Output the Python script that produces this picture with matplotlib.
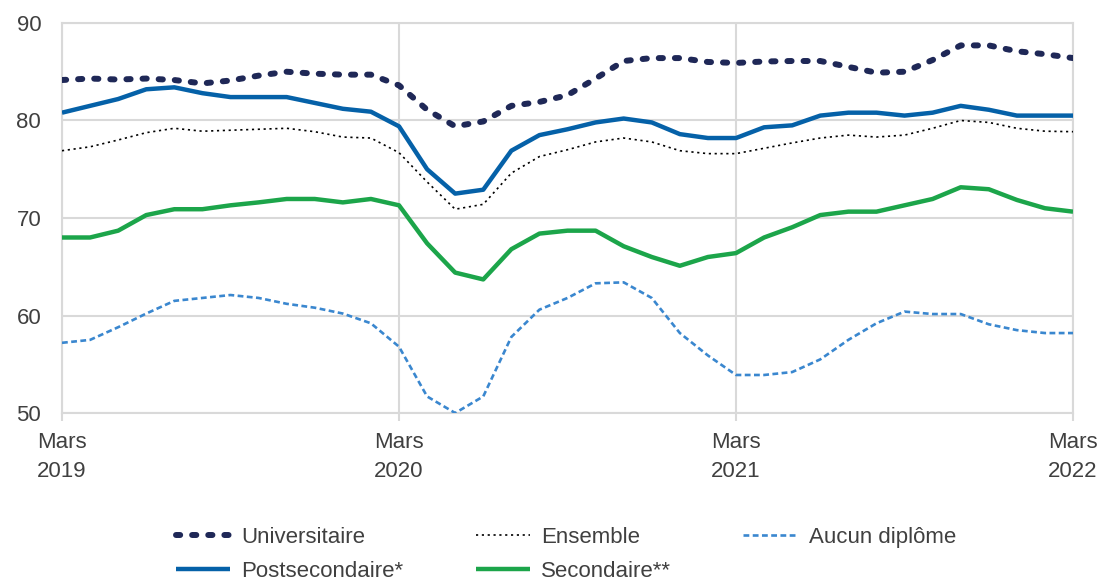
import matplotlib.pyplot as plt

# monthly rates, March 2019 .. March 2022
months = list(range(37))
tick_pos = [0, 12, 24, 36]
tick_labels = ["Mars\n2019", "Mars\n2020", "Mars\n2021", "Mars\n2022"]

universitaire = [84.15, 84.3, 84.2, 84.3, 84.15, 83.8, 84.1, 84.6, 85.0, 84.8, 84.7, 84.7, 83.6,
                 81.1, 79.4, 79.9, 81.5, 81.9, 82.6, 84.3, 86.1, 86.4, 86.4, 86.0, 85.9,
                 86.05, 86.1, 86.1, 85.5, 84.9, 85.0, 86.2, 87.7, 87.7, 87.1, 86.8, 86.4]
postsecondaire = [80.8, 81.5, 82.2, 83.2, 83.4, 82.8, 82.4, 82.4, 82.4, 81.8, 81.2, 80.9, 79.4,
                  75.0, 72.5, 72.9, 76.9, 78.5, 79.1, 79.8, 80.2, 79.8, 78.6, 78.2, 78.2,
                  79.3, 79.5, 80.5, 80.8, 80.8, 80.5, 80.8, 81.5, 81.1, 80.5, 80.5, 80.5]
ensemble = [76.9, 77.3, 78.0, 78.75, 79.2, 78.9, 79.0, 79.1, 79.2, 78.85, 78.3, 78.2, 76.7,
            73.7, 70.9, 71.4, 74.6, 76.3, 77.0, 77.8, 78.2, 77.8, 76.9, 76.6, 76.6,
            77.15, 77.7, 78.2, 78.5, 78.3, 78.5, 79.2, 80.0, 79.8, 79.2, 78.9, 78.85]
secondaire = [68.0, 68.0, 68.7, 70.3, 70.9, 70.9, 71.3, 71.6, 71.95, 71.95, 71.6, 71.95, 71.3,
              67.4, 64.4, 63.7, 66.8, 68.4, 68.7, 68.7, 67.1, 66.0, 65.1, 66.0, 66.4,
              68.0, 69.05, 70.3, 70.65, 70.65, 71.3, 71.95, 73.15, 72.95, 71.85, 71.0, 70.65]
aucun = [57.2, 57.5, 58.8, 60.2, 61.5, 61.8, 62.1, 61.8, 61.2, 60.8, 60.2, 59.2, 56.8,
         51.7, 50.0, 51.7, 57.8, 60.6, 61.8, 63.3, 63.4, 61.8, 58.2, 55.9, 53.9,
         53.9, 54.2, 55.5, 57.5, 59.2, 60.4, 60.15, 60.15, 59.1, 58.5, 58.2, 58.2]

plt.rcParams['font.family'] = ['Liberation Sans', 'DejaVu Sans']
text_color = '#404040'
grid_color = '#d9d9d9'


def main():
    fig = plt.figure(figsize=(11.01, 5.86), dpi=100)
    ax = fig.add_axes([0.0563, 0.2952, 0.9183, 0.6656])

    ax.plot(months, universitaire, color='#1f2857', lw=4.3, dashes=(0.7, 2.0),
            dash_capstyle='round', label='Universitaire', zorder=5)
    ax.plot(months, postsecondaire, color='#0561a8', lw=3.2, solid_capstyle='butt',
            label='Postsecondaire*', zorder=4)
    ax.plot(months, ensemble, color='black', lw=1.2, dashes=(1.3, 2.2),
            label='Ensemble', zorder=3)
    ax.plot(months, secondaire, color='#1ca54a', lw=3.2, solid_capstyle='butt',
            label='Secondaire**', zorder=4)
    ax.plot(months, aucun, color='#3a87cf', lw=1.9, dashes=(2.2, 1.3),
            label='Aucun diplôme', zorder=3)

    ax.set_xlim(0, 36)
    ax.set_ylim(50, 90)
    ax.set_yticks([50, 60, 70, 80, 90])
    ax.set_xticks(tick_pos)
    ax.set_xticklabels(tick_labels, linespacing=1.45)

    ax.grid(True, color=grid_color, lw=1.5)
    ax.set_axisbelow(True)
    for s in ax.spines.values():
        s.set_color(grid_color)
        s.set_linewidth(1.5)

    ax.tick_params(axis='y', length=0, pad=15, labelsize=16, labelcolor=text_color)
    ax.tick_params(axis='x', length=6, width=1.5, color=grid_color, pad=8,
                   labelsize=16, labelcolor=text_color)

    leg = fig.legend(loc='center', bbox_to_anchor=(0.514, 0.054), ncol=3, frameon=False,
                     fontsize=16, handlelength=2.45, handletextpad=0.5,
                     columnspacing=3.25, labelspacing=0.6, borderaxespad=0.2)
    for t in leg.get_texts():
        t.set_color(text_color)

    fig.savefig('out.png', dpi=100)


if __name__ == "__main__":
    main()
